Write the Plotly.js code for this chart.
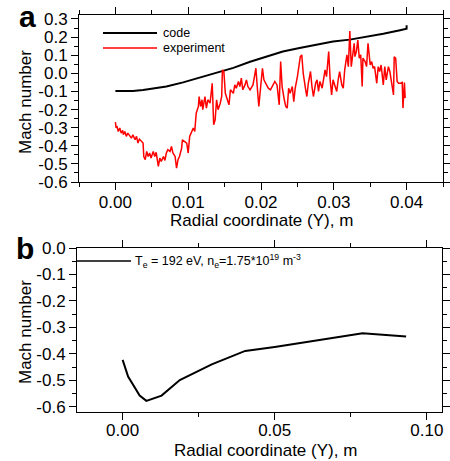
<!DOCTYPE html>
<html>
<head>
<meta charset="utf-8">
<script src="https://cdn.plot.ly/plotly-3.0.1.min.js"></script>
<style>html,body{margin:0;padding:0;background:#fff;}#chart{width:450px;height:461px;}</style>
</head>
<body>
<div id="chart"></div>
<script>
// ---- Panel a: code vs experiment ----
var codeX = [0, 0.0024, 0.0038, 0.0070, 0.0093, 0.0116, 0.0139, 0.0162, 0.0185, 0.0208, 0.0230, 0.0253, 0.0276, 0.0299, 0.0322, 0.0345, 0.0368, 0.0391, 0.0398, 0.0400, 0.0400];
var codeY = [-0.098, -0.097, -0.092, -0.073, -0.050, -0.022, 0.004, 0.030, 0.064, 0.094, 0.120, 0.140, 0.160, 0.176, 0.186, 0.200, 0.218, 0.238, 0.244, 0.246, 0.266];

var expX = [0, 0.0001, 0.0002, 0.0004, 0.0006, 0.0008, 0.0010, 0.0011, 0.0013, 0.0015, 0.0017, 0.0020, 0.0022, 0.0024, 0.0027, 0.0029, 0.0031, 0.0033, 0.0036, 0.0038,
  0.0039, 0.0041, 0.0043, 0.0045, 0.0047, 0.0049, 0.0052, 0.0054, 0.0056, 0.0059, 0.0061, 0.0063, 0.0066, 0.0068, 0.0070, 0.0072, 0.0075, 0.0077, 0.0079, 0.0082,
  0.0084, 0.0086, 0.0088, 0.0091, 0.0092, 0.0095, 0.0098, 0.0100, 0.0102, 0.0104, 0.0107, 0.0109, 0.0111, 0.0114, 0.0115, 0.0117, 0.0119, 0.0120, 0.0123, 0.0125,
  0.0127, 0.0130, 0.0132, 0.0133, 0.0135, 0.0137, 0.0139, 0.0141, 0.0144, 0.0146, 0.0147, 0.0149, 0.0151, 0.0154, 0.0156, 0.0158, 0.0162, 0.0164, 0.0166, 0.0169,
  0.0171, 0.0173, 0.0175, 0.0178, 0.0180, 0.0182, 0.0185, 0.0189, 0.0193, 0.0195, 0.0197, 0.0200, 0.0202, 0.0204, 0.0207, 0.0210, 0.0213, 0.0216, 0.0219, 0.0222,
  0.0225, 0.0227, 0.0229, 0.0232, 0.0234, 0.0236, 0.0238, 0.0240, 0.0243, 0.0245, 0.0247, 0.0250, 0.0252, 0.0254, 0.0256, 0.0258, 0.0261, 0.0263, 0.0265, 0.0268,
  0.0270, 0.0272, 0.0275, 0.0277, 0.0279, 0.0281, 0.0284, 0.0286, 0.0288, 0.0290, 0.0293, 0.0295, 0.0297, 0.0299, 0.0301, 0.0304, 0.0306, 0.0308, 0.0311, 0.0313,
  0.0315, 0.0318, 0.0320, 0.0322, 0.0324, 0.0326, 0.0328, 0.0329, 0.0331, 0.0333, 0.0335, 0.0337, 0.0339, 0.0340, 0.0343, 0.0345, 0.0347, 0.0350, 0.0352, 0.0354,
  0.0356, 0.0359, 0.0361, 0.0363, 0.0365, 0.0368, 0.0370, 0.0372, 0.0375, 0.0377, 0.0379, 0.0382, 0.0383, 0.0385, 0.0387, 0.0389, 0.0392, 0.0394, 0.0395, 0.0397,
  0.0398];
var expY = [-0.269, -0.302, -0.290, -0.321, -0.302, -0.330, -0.315, -0.339, -0.321, -0.348, -0.330, -0.345, -0.358, -0.339, -0.367, -0.348, -0.385, -0.363, -0.376, -0.385,
  -0.459, -0.477, -0.431, -0.459, -0.440, -0.468, -0.431, -0.459, -0.436, -0.514, -0.468, -0.486, -0.459, -0.481, -0.440, -0.422, -0.431, -0.404, -0.440, -0.459,
  -0.523, -0.477, -0.459, -0.413, -0.367, -0.376, -0.385, -0.440, -0.348, -0.330, -0.302, -0.321, -0.220, -0.183, -0.128, -0.183, -0.146, -0.201, -0.128, -0.192,
  -0.146, -0.165, -0.055, -0.055, -0.284, -0.257, -0.146, -0.201, -0.165, -0.128, 0.019, 0.010, -0.110, -0.146, -0.174, -0.091, -0.110, -0.064, -0.082, -0.045,
  -0.073, -0.027, -0.091, -0.064, -0.036, -0.073, -0.091, -0.064, 0.028, -0.082, -0.183, -0.055, 0.028, -0.036, -0.064, -0.082, -0.091, -0.064, -0.045, -0.064,
  -0.174, 0.065, -0.073, -0.146, -0.183, -0.192, -0.082, -0.110, -0.073, -0.156, -0.082, -0.018, 0.037, 0.092, 0.102, 0.000, -0.082, -0.128, -0.055, 0.010,
  -0.073, -0.128, -0.055, -0.036, -0.100, -0.045, -0.082, -0.036, 0.019, -0.018, 0.120, -0.036, -0.119, -0.036, -0.064, -0.100, -0.036, 0.010, -0.064, -0.082,
  0.019, 0.102, 0.037, 0.234, 0.037, 0.092, 0.166, 0.092, 0.120, 0.184, 0.083, 0.102, -0.073, 0.083, 0.065, 0.037, 0.166, 0.046, 0.065, 0.028,
  0.037, -0.055, 0.037, 0.010, 0.046, -0.064, 0.037, -0.036, 0.037, 0.010, -0.036, -0.119, 0.092, 0.083, -0.045, -0.055, -0.055, -0.051, -0.192, -0.051,
  -0.137];

// ---- Panel b: simulation ----
var simX = [0, 0.0018, 0.0056, 0.0078, 0.0128, 0.0188, 0.0293, 0.0403, 0.0500, 0.0789, 0.0932];
var simY = [-0.423, -0.486, -0.558, -0.578, -0.558, -0.499, -0.440, -0.389, -0.374, -0.322, -0.335];

var xTicksA = [0, 0.01, 0.02, 0.03, 0.04];
var xTickTextA = ['0.00', '0.01', '0.02', '0.03', '0.04'];
var yTicksA = [0.3, 0.2, 0.1, 0, -0.1, -0.2, -0.3, -0.4, -0.5, -0.6];
var yTickTextA = ['0.3', '0.2', '0.1', '0.0', '-0.1', '-0.2', '-0.3', '-0.4', '-0.5', '-0.6'];
var xTicksB = [0, 0.05, 0.10];
var xTickTextB = ['0.00', '0.05', '0.10'];
var yTicksB = [0, -0.1, -0.2, -0.3, -0.4, -0.5, -0.6];
var yTickTextB = ['0.0', '-0.1', '-0.2', '-0.3', '-0.4', '-0.5', '-0.6'];

var xTitle = 'Radial coordinate (Y), m';
var yTitle = 'Mach number';
var legendA = ['code', 'experiment'];
var legendB = 'T<sub>e</sub> = 192 eV, n<sub>e</sub>=1.75*10<sup>19</sup> m<sup>-3</sup>';

var FONT = 'Liberation Sans, Arial, sans-serif';
var W = 450, H = 461;
function px(x) { return x / W; }
function py(y) { return 1 - y / H; }

var traces = [
  {x: codeX, y: codeY, xaxis: 'x', yaxis: 'y', mode: 'lines', name: legendA[0], line: {color: '#000000', width: 2}},
  {x: expX, y: expY, xaxis: 'x', yaxis: 'y', mode: 'lines', name: legendA[1], line: {color: '#ff0000', width: 1.5}},
  {x: simX, y: simY, xaxis: 'x2', yaxis: 'y2', mode: 'lines', name: 'sim', line: {color: '#000000', width: 2}}
];

function axisBase() {
  return {
    showgrid: false, zeroline: false, showline: true, linecolor: '#000', linewidth: 1,
    mirror: 'allticks', ticks: 'outside', ticklen: 7, tickwidth: 1, tickcolor: '#000',
    tickfont: {family: FONT, size: 17, color: '#000'},
    minor: {ticks: 'outside', ticklen: 4, tickwidth: 1, tickcolor: '#000', showgrid: false},
    tickmode: 'array', automargin: false
  };
}

var xa = Object.assign(axisBase(), {domain: [px(79), px(443)], range: [-0.005, 0.045], anchor: 'y',
  tickvals: xTicksA, ticktext: xTickTextA, ticklabelstandoff: -2});
xa.minor.dtick = 0.005; xa.minor.tick0 = 0; xa.minor.tickmode = 'linear';
var ya = Object.assign(axisBase(), {domain: [py(182), py(15)], range: [-0.6, 0.322], anchor: 'x',
  tickvals: yTicksA, ticktext: yTickTextA});
ya.minor.dtick = 0.05; ya.minor.tick0 = 0; ya.minor.tickmode = 'linear';
var xb = Object.assign(axisBase(), {domain: [px(77), px(442)], range: [-0.015, 0.105], anchor: 'y2',
  tickvals: xTicksB, ticktext: xTickTextB, ticklabelstandoff: -4});
xb.minor.dtick = 0.025; xb.minor.tick0 = 0; xb.minor.tickmode = 'linear';
var yb = Object.assign(axisBase(), {domain: [py(412), py(248)], range: [-0.62, 0], anchor: 'x2',
  tickvals: yTicksB, ticktext: yTickTextB});
yb.minor.dtick = 0.05; yb.minor.tick0 = 0; yb.minor.tickmode = 'linear';

function ann(text, x, y, opts) {
  return Object.assign({text: text, xref: 'paper', yref: 'paper', x: px(x), y: py(y),
    xanchor: 'center', yanchor: 'middle', showarrow: false,
    font: {family: FONT, size: 17, color: '#000'}}, opts || {});
}

var layout = {
  width: W, height: H,
  margin: {l: 0, r: 0, t: 0, b: 0},
  paper_bgcolor: '#fff', plot_bgcolor: '#fff',
  showlegend: false,
  font: {family: FONT, color: '#000'},
  xaxis: xa, yaxis: ya, xaxis2: xb, yaxis2: yb,
  shapes: [
    {type: 'line', xref: 'paper', yref: 'paper', x0: px(103), x1: px(157), y0: py(33), y1: py(33), line: {color: '#000', width: 2}},
    {type: 'line', xref: 'paper', yref: 'paper', x0: px(103), x1: px(157), y0: py(48), y1: py(48), line: {color: '#ff0000', width: 1.5}},
    {type: 'line', xref: 'paper', yref: 'paper', x0: px(76), x1: px(131), y0: py(261), y1: py(261), line: {color: '#000', width: 1.5}}
  ],
  annotations: [
    ann(xTitle, 261, 221),
    ann(xTitle, 265, 450),
    ann(yTitle, 25, 102, {textangle: -90}),
    ann(yTitle, 25, 332, {textangle: -90}),
    ann(legendA[0], 161, 33, {xanchor: 'left', font: {family: FONT, size: 12.5, color: '#000'}}),
    ann(legendA[1], 161, 48, {xanchor: 'left', font: {family: FONT, size: 12.5, color: '#000'}}),
    ann(legendB, 133, 261, {xanchor: 'left', font: {family: FONT, size: 12.5, color: '#000'}}),
    ann('<b>a</b>', 27, 16, {font: {family: FONT, size: 30, color: '#000'}}),
    ann('<b>b</b>', 25, 248, {font: {family: FONT, size: 30, color: '#000'}})
  ]
};

Plotly.newPlot('chart', traces, layout, {displayModeBar: false, staticPlot: true});
</script>
</body>
</html>
